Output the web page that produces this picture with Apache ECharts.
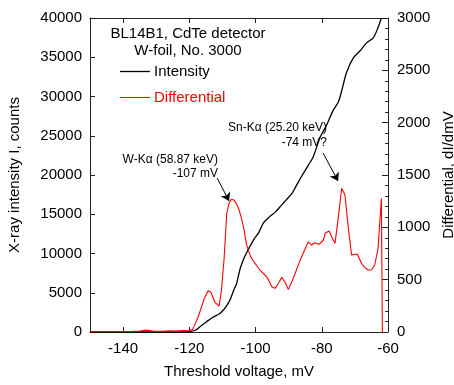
<!DOCTYPE html>
<html>
<head>
<meta charset="utf-8">
<script src="https://cdn.jsdelivr.net/npm/echarts@6/dist/echarts.min.js"></script>
<style>html,body{margin:0;padding:0;background:#fff}#c{width:454px;height:385px}</style>
</head>
<body>
<div id="c"></div>
<script>
// ---- data ----
var xTicks = [-140, -120, -100, -80, -60];
var intensityV = [-150, -122, -120, -118, -116.8, -115, -113, -111, -109.7, -108.5, -107.7, -106.5, -105.7, -104.7, -103.5, -102.7, -101.7, -100.5, -99, -97.7, -96, -94, -92.6, -91, -89, -88, -86, -84, -82.6, -80.5, -78.5, -76.5, -75, -74, -72.5, -70.5, -68.5, -66.5, -64.4, -63, -62];
var intensityI = [0, 0, 30, 250, 680, 1250, 1850, 2300, 2800, 3500, 4100, 5400, 6200, 8000, 9400, 10100, 10900, 11800, 12700, 13850, 14600, 15300, 15960, 16700, 17670, 18400, 19900, 21300, 22300, 24800, 26400, 28300, 29300, 30700, 33100, 34900, 35800, 36800, 37500, 38800, 40000];
var diffV = [-150, -146, -142, -138, -135, -133, -131, -128, -126, -124, -122, -120, -119, -117.3, -115.5, -114.3, -113.5, -112.2, -111, -110.3, -109.5, -108.7, -108, -107.3, -106.5, -105.8, -105, -104.2, -103.5, -102.7, -101.5, -100.7, -98.7, -96.6, -95.1, -94.1, -93, -92.1, -91, -90.1, -88.6, -86.6, -84.1, -83.1, -82.1, -80.8, -79.5, -79, -77.8, -76.8, -76, -75, -74, -73, -72, -71, -69.3, -68, -67, -66, -65, -64, -63, -62, -61.7];
var diffD = [0, 3, 2, 5, 10, 18, 8, 6, 12, 10, 14, 12, 25, 146, 320, 395, 380, 280, 248, 400, 700, 1134, 1230, 1268, 1260, 1225, 1170, 1080, 980, 830, 720, 680, 592, 528, 433, 417, 470, 522, 470, 405, 513, 680, 863, 831, 853, 838, 879, 943, 965, 895, 847, 1100, 1373, 1309, 1000, 736, 745, 656, 615, 592, 592, 640, 800, 1277, 0];
var legendNames = ['Intensity', 'Differential'];

function pairs(xs, ys) { return xs.map(function (x, i) { return [x, ys[i]]; }); }
function plain(v) { return String(v); }

var FONT = '"Liberation Sans", Arial, Helvetica, sans-serif';
var AX = '#222';
var chart = echarts.init(document.getElementById('c'), null, {renderer: 'canvas'});
chart.setOption({
  animation: false,
  backgroundColor: '#fff',
  textStyle: {fontFamily: FONT},
  grid: {left: 90, right: 66, top: 18, bottom: 53, outerBoundsMode: 'none', containLabel: false},
  graphic: [
    {type: 'text', style: {x: 188, y: 25, text: 'BL14B1, CdTe detector\nW-foil, No. 3000', align: 'center', verticalAlign: 'top', lineHeight: 17, font: '15px ' + FONT, fill: '#000'}},
    {type: 'line', shape: {x1: 120, y1: 71.5, x2: 150, y2: 71.5}, style: {stroke: '#000', lineWidth: 1.3}},
    {type: 'text', style: {x: 154, y: 71.5, text: legendNames[0], align: 'left', verticalAlign: 'middle', font: '15px ' + FONT, fill: '#000'}},
    {type: 'line', shape: {x1: 120, y1: 97.5, x2: 150, y2: 97.5}, style: {stroke: '#ff0000', lineWidth: 1.1}},
    {type: 'text', style: {x: 154, y: 97.5, text: legendNames[1], align: 'left', verticalAlign: 'middle', font: '15px ' + FONT, fill: '#ff0000'}},
    {type: 'text', style: {x: 218, y: 153, text: 'W-K\u03b1 (58.87 keV)\n-107 mV', align: 'right', verticalAlign: 'top', lineHeight: 14, font: '12px ' + FONT, fill: '#000'}},
    {type: 'text', style: {x: 327, y: 120, text: 'Sn-K\u03b1 (25.20 keV)\n-74 mV?', align: 'right', verticalAlign: 'top', lineHeight: 15, font: '12px ' + FONT, fill: '#000'}}
  ],
  xAxis: [{
    type: 'value', min: -150, max: -60, position: 'bottom',
    name: 'Threshold voltage, mV', nameLocation: 'middle', nameGap: 32,
    nameTextStyle: {fontSize: 15, color: '#000', fontFamily: FONT},
    axisLine: {show: true, onZero: false, lineStyle: {color: AX}},
    axisTick: {show: true, inside: true, length: 5, customValues: xTicks, lineStyle: {color: AX}},
    axisLabel: {fontSize: 15, color: '#000', margin: 9, customValues: xTicks, fontFamily: FONT, formatter: plain},
    splitLine: {show: false}
  }, {
    type: 'value', min: -150, max: -60, position: 'top',
    axisLine: {show: true, onZero: false, lineStyle: {color: AX}},
    axisTick: {show: true, inside: true, length: 5, customValues: xTicks, lineStyle: {color: AX}},
    axisLabel: {show: false},
    splitLine: {show: false}
  }],
  yAxis: [{
    type: 'value', min: 0, max: 40000, interval: 5000, position: 'left',
    name: 'X-ray intensity I, counts', nameLocation: 'middle', nameGap: 68,
    nameTextStyle: {fontSize: 15, color: '#000', fontFamily: FONT},
    axisLine: {show: true, onZero: false, lineStyle: {color: AX}},
    axisTick: {show: true, inside: true, length: 5, lineStyle: {color: AX}},
    axisLabel: {fontSize: 15, color: '#000', margin: 8, fontFamily: FONT, formatter: plain},
    splitLine: {show: false}
  }, {
    type: 'value', min: 0, max: 3000, interval: 500, position: 'right',
    name: 'Differential, dI/dmV', nameLocation: 'middle', nameGap: 52,
    nameTextStyle: {fontSize: 15, color: '#000', fontFamily: FONT},
    axisLine: {show: true, onZero: false, lineStyle: {color: AX}},
    axisTick: {show: true, inside: true, length: 6, lineStyle: {color: AX}},
    minorTick: {show: true, splitNumber: 5, length: 3, lineStyle: {color: AX}},
    axisLabel: {fontSize: 15, color: '#000', margin: 9, fontFamily: FONT, formatter: plain},
    splitLine: {show: false}, minorSplitLine: {show: false}
  }],
  series: [{
    name: legendNames[0], type: 'line', xAxisIndex: 0, yAxisIndex: 0,
    data: pairs(intensityV, intensityI), showSymbol: false, symbol: 'none', smooth: 0.3,
    lineStyle: {color: '#000', width: 1.3}, itemStyle: {color: '#000'}, clip: true
  }, {
    name: legendNames[1], type: 'line', xAxisIndex: 0, yAxisIndex: 1,
    data: pairs(diffV, diffD), showSymbol: false, symbol: 'none',
    lineStyle: {color: '#ff0000', width: 1.1}, itemStyle: {color: '#ff0000'}, clip: true,
    markLine: {
      silent: true, symbol: ['none', 'arrow'], symbolSize: 8,
      lineStyle: {color: '#000', width: 1, type: 'solid'}, label: {show: false},
      data: [
        [{coord: [-111.6, 1471]}, {coord: [-108, 1252]}],
        [{coord: [-79.6, 1710]}, {coord: [-75.1, 1443]}]
      ]
    }
  }]
});
</script>
</body>
</html>
